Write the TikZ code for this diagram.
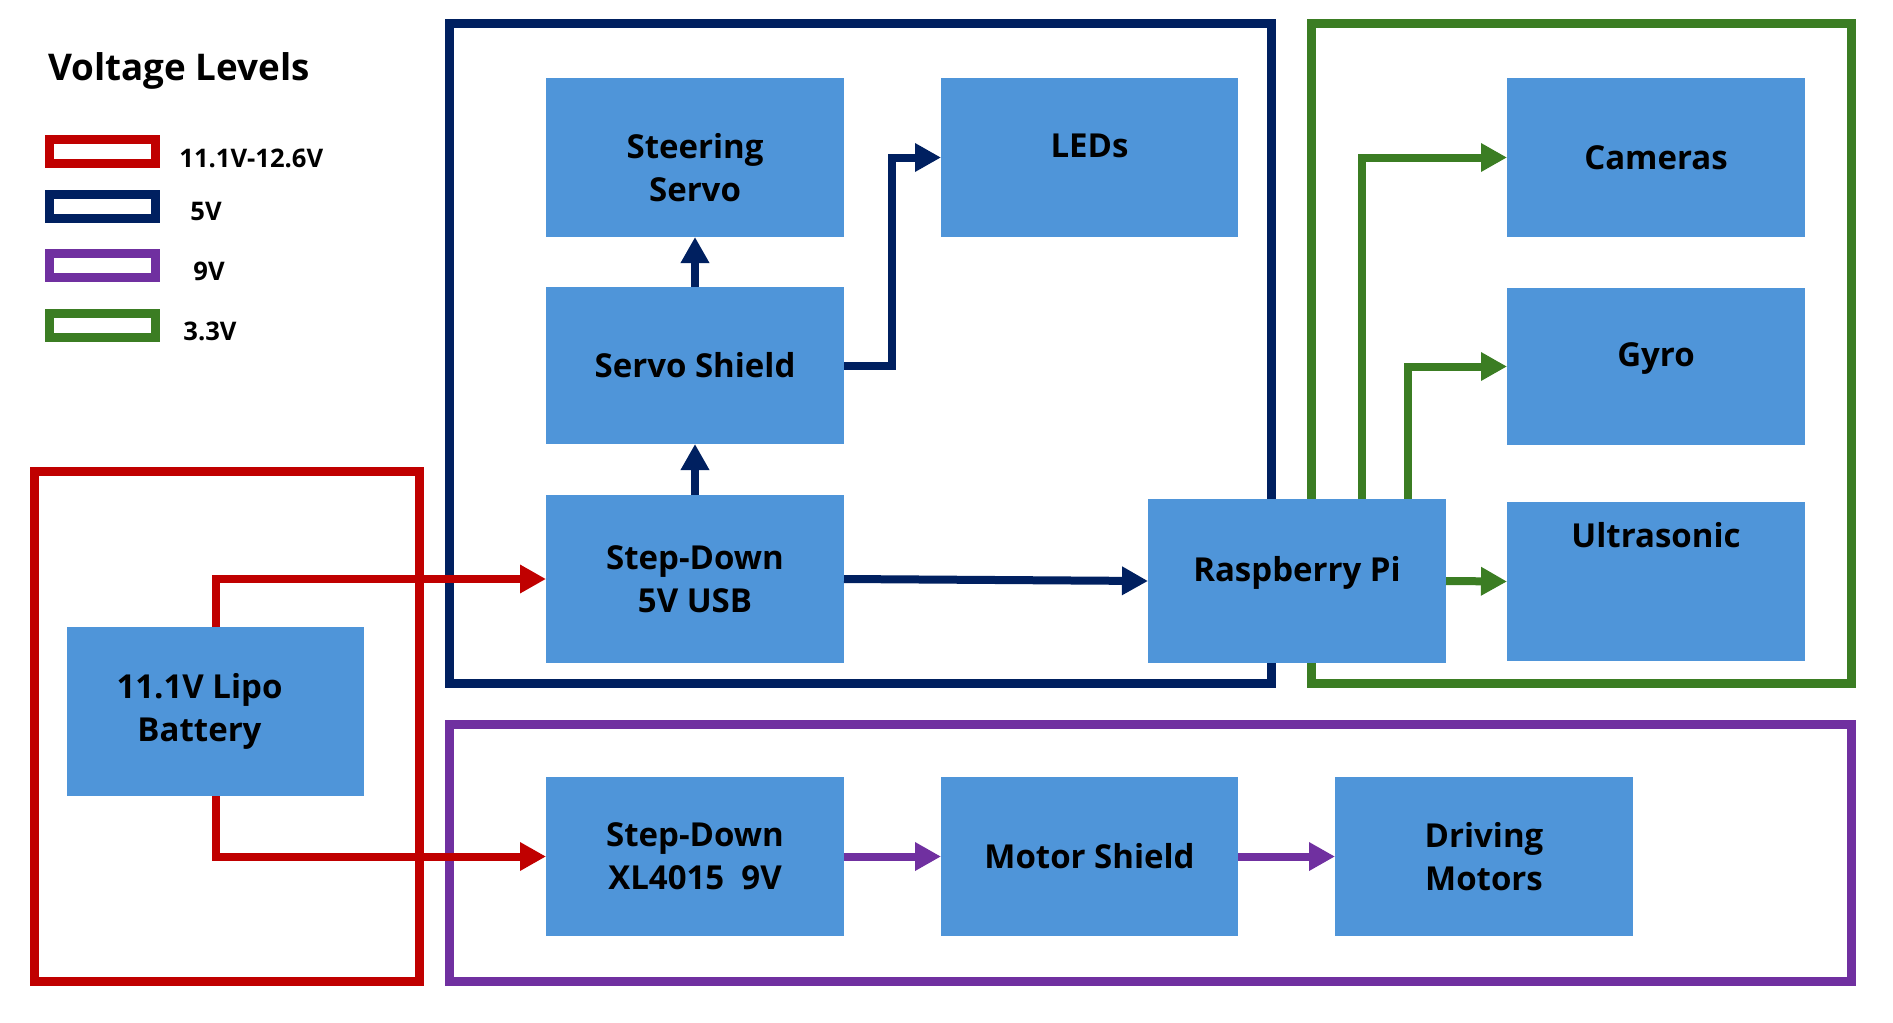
\documentclass[tikz,border=0pt]{standalone}
\usepackage{fontspec}
\setmainfont{Open Sans}
\usepackage{xcolor}
\usepackage{tikz}
\usetikzlibrary{arrows.meta, positioning}
\definecolor{boxblue}{RGB}{79,149,217}
\definecolor{vnavy}{RGB}{0,32,96}
\definecolor{vred}{RGB}{192,0,0}
\definecolor{vpurple}{RGB}{112,48,160}
\definecolor{vgreen}{RGB}{59,125,35}
\tikzset{
  partbox/.style={rectangle, fill=boxblue, minimum width=149pt, minimum height=79.5pt, inner sep=0pt, outer sep=0pt, align=center, font=\fontsize{16.5}{21.5}\selectfont\bfseries},
  lift/.style={text height=11.8pt, text depth=#1},
  railframe/.style={line width=4.5pt},
  legbox/.style={rectangle, draw, line width=4.5pt, minimum width=53pt, minimum height=12pt, inner sep=0pt, outer sep=0pt},
  legtext/.style={inner sep=0pt, anchor=base west, font=\fontsize{12.8}{15}\selectfont\bfseries},
  pwr/.style={-{Triangle[length=13pt, width=13.5pt]}, line width=4pt},
}

\begin{document}
\begin{tikzpicture}[x=1pt, y=1pt]
  \useasboundingbox (0,0) rectangle (946.5,-511);

  % Legend
  \node[inner sep=0pt, anchor=base west, font=\fontsize{18.4}{22}\selectfont\bfseries] (legtitle) at (24,-40.3) {Voltage Levels};
  \node[legbox, draw=vred] (legred) at (51.25,-75.75) {};
  \node[legbox, draw=vnavy] (legnavy) at (51.25,-103) {};
  \node[legbox, draw=vpurple] (legpurple) at (51.25,-132.75) {};
  \node[legbox, draw=vgreen] (leggreen) at (51.25,-162.75) {};
  \node[legtext] (legredtxt) at (89.5,-83.5) {11.1V-12.6V};
  \node[legtext] (legnavytxt) at (95,-110) {5V};
  \node[legtext] (legpurpletxt) at (96.5,-140) {9V};
  \node[legtext] (leggreentxt) at (91.5,-170) {3.3V};

  % Rail frames
  \draw[railframe, vred] (17.25,-235.75) rectangle (209.75,-490.75);
  \draw[railframe, vnavy] (224.75,-11.75) rectangle (635.75,-341.75);
  \draw[railframe, vgreen] (655.75,-11.75) rectangle (925.75,-341.75);
  \draw[railframe, vpurple] (224.75,-362.25) rectangle (925.75,-490.75);

  % 5V rail
  \node[partbox, text height=43.6pt, text depth=0pt] (steer) at (347.5,-78.75) {Steering\\Servo};
  \node[partbox, minimum height=78.5pt, below=25pt of steer] (servo) {Servo Shield};
  \node[partbox, minimum height=84pt, below=25.5pt of servo] (sd5) {Step-Down\\5V USB};
  \node[partbox, minimum width=148.5pt, lift=11.5pt, right=48.5pt of steer] (leds) {LEDs};
  \node[partbox, minimum height=82pt, lift=11.5pt] (rpi) at (648.5,-290.5) {Raspberry Pi};

  % 3.3V rail
  \node[partbox] (cam) at (828,-78.75) {Cameras};
  \node[partbox, minimum height=78.5pt, lift=12pt, below=25.5pt of cam] (gyro) {Gyro};
  \node[partbox, lift=45.5pt, below=28.5pt of gyro] (ultra) {Ultrasonic};

  % Battery and 9V rail
  \node[partbox, minimum width=148.5pt, minimum height=84.5pt] (bat) at (107.75,-355.75) {11.1V Lipo\hspace*{16pt}\\Battery\hspace*{16pt}};
  \node[partbox, below=57pt of sd5] (sd9) {Step-Down\\XL4015\ \ 9V};
  \node[partbox, minimum width=148.5pt, right=48.5pt of sd9] (motor) {Motor Shield};
  \node[partbox, right=48.5pt of motor] (drive) {Driving\\Motors};

  % Power flow
  \draw[pwr, vnavy] (servo.north) -- (steer.south);
  \draw[pwr, vnavy] (sd5.north) -- (servo.south);
  \draw[pwr, vnavy] (servo.east) -- ++(24,0) |- (leds.west);
  \draw[pwr, vnavy] (sd5.east) -- (rpi.west);
  \draw[pwr, vgreen] ([xshift=32.5pt]rpi.north) |- (cam.west);
  \draw[pwr, vgreen] ([xshift=55.5pt]rpi.north) |- (gyro.west);
  \draw[pwr, vgreen] (rpi.east) -- (ultra.west);
  \draw[pwr, vred] (bat.north) |- (sd5.west);
  \draw[pwr, vred] (bat.south) |- (sd9.west);
  \draw[pwr, vpurple] (sd9.east) -- (motor.west);
  \draw[pwr, vpurple] (motor.east) -- (drive.west);
\end{tikzpicture}
\end{document}
